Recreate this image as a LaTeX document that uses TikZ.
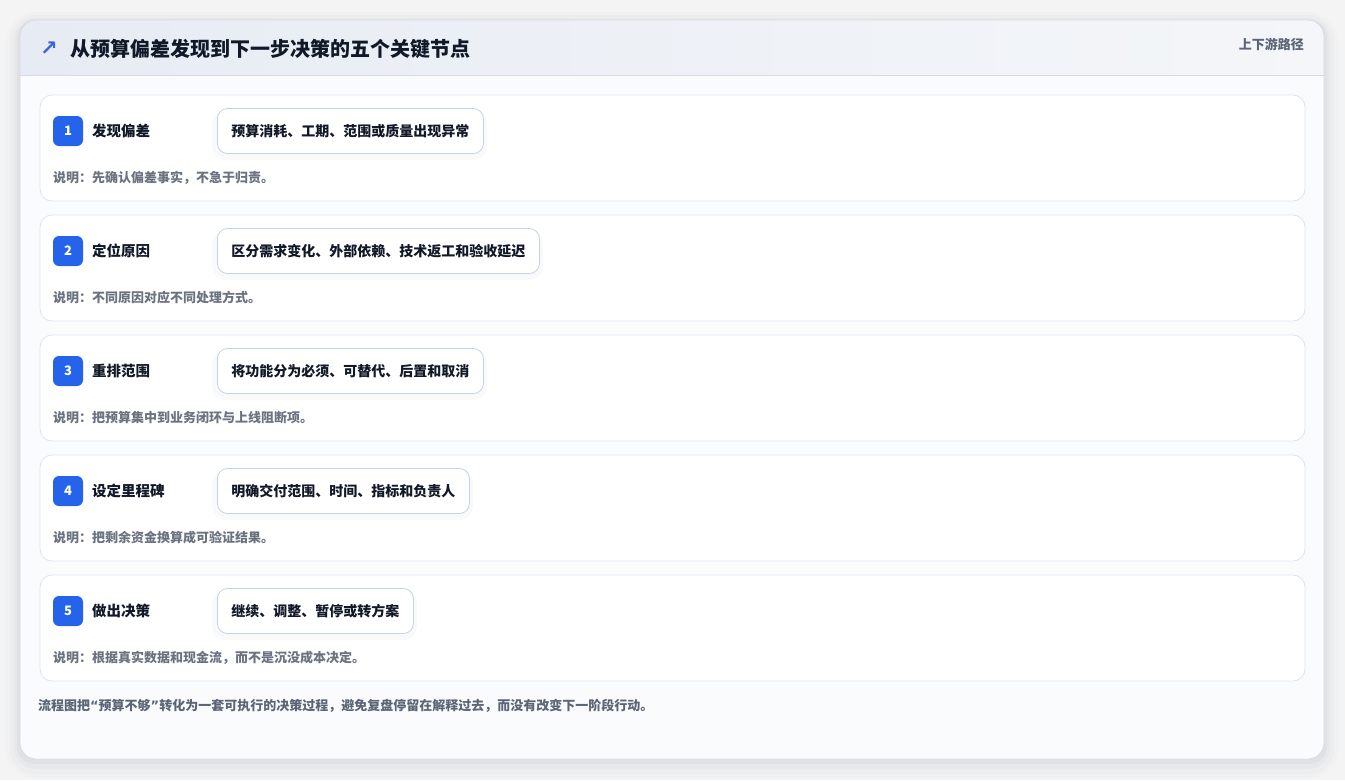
\documentclass[tikz,border=0pt]{standalone}
\usepackage{fontspec}
\setmainfont{Noto Sans CJK SC}
\newfontfamily\symfont{DejaVu Sans}
\usepackage{tikz}
\usetikzlibrary{positioning}
\usepackage{xcolor}
\definecolor{pagegray}{HTML}{F4F4F5}
\definecolor{cardline}{HTML}{D6DBE3}
\definecolor{cardbody}{HTML}{FAFBFD}
\definecolor{headleft}{HTML}{E7ECF4}
\definecolor{headright}{HTML}{F4F6F9}
\definecolor{rowfill}{HTML}{FFFFFF}
\definecolor{rowline}{HTML}{DCE5F1}
\definecolor{badgeblue}{HTML}{2563EB}
\definecolor{pillline}{HTML}{C2D3EB}
\definecolor{inkdark}{HTML}{111827}
\definecolor{notegray}{HTML}{6B7280}
\definecolor{footgray}{HTML}{5B6576}
\definecolor{iconblue}{HTML}{3B63E0}
\definecolor{shadowink}{HTML}{1E293B}

\begin{document}
\begin{tikzpicture}[x=1pt,y=-1pt,
        rowbox/.style={draw=rowline,fill=rowfill,rounded corners=12pt,line width=0.8pt},
        badge/.style={fill=badgeblue,rounded corners=6pt,minimum width=30pt,minimum height=30pt,inner sep=0pt,text=white,font=\fontsize{13pt}{15pt}\selectfont\bfseries},
        steptitle/.style={anchor=west,inner sep=0pt,text=inkdark,font=\fontsize{14.5pt}{17pt}\selectfont\bfseries},
        pill/.style={anchor=west,draw=pillline,fill=white,rounded corners=10pt,line width=0.8pt,minimum height=45pt,inner xsep=14pt,text=inkdark,font=\fontsize{14pt}{16pt}\selectfont\bfseries},
        pillshade/.style={fill=shadowink,fill opacity=0.025,rounded corners=14pt},
        notetext/.style={anchor=west,inner sep=0pt,text=notegray,font=\fontsize{13pt}{15pt}\selectfont\bfseries}]
            \useasboundingbox (0,0) rectangle (1345,780);
            \fill [pagegray] (0,0) rectangle (1345,780);

            % soft shadow of the card
            \fill [shadowink,fill opacity=0.012,rounded corners=30pt] (6,12) rectangle (1338,778);
            \fill [shadowink,fill opacity=0.018,rounded corners=26pt] (10,15) rectangle (1334,774);
            \fill [shadowink,fill opacity=0.025,rounded corners=22pt] (14,18) rectangle (1330,769);
            \fill [shadowink,fill opacity=0.035,rounded corners=18pt] (17,20) rectangle (1327,764);

            % card and header
            \fill [cardbody,rounded corners=16pt] (20,20) rectangle (1324,759);
            \begin{scope}
                \clip [rounded corners=16pt] (20,20) rectangle (1324,759);
                \shade [left color=headleft,right color=headright] (20,20) rectangle (1324,75);
            \end{scope}
            \draw [cardline,line width=0.8pt] (20,75) -- (1324,75);
            \draw [cardline,line width=0.8pt,rounded corners=16pt] (20,20) rectangle (1324,759);

            \node [anchor=west,inner sep=0pt,text=iconblue,font=\symfont\bfseries\fontsize{21pt}{24pt}\selectfont] (icon) at (40,49) {↗};
            \node [anchor=west,inner sep=0pt,text=inkdark,font=\fontsize{20pt}{23pt}\selectfont\bfseries] (title) at (70,49) {从预算偏差发现到下一步决策的五个关键节点};
            \node [anchor=east,inner sep=0pt,text=footgray,font=\fontsize{13pt}{15pt}\selectfont\bfseries] (tag) at (1304,44) {上下游路径};

            % step 1
            \draw [rowbox] (40,95) rectangle (1305,201);
            \node [badge] (num1) at (68,131) {1};
            \node [steptitle] (step1) at (92,131) {发现偏差};
            \fill [pillshade] (212,110) rectangle (487,160);
            \node [pill] (pill1) at (217,131) {预算消耗、工期、范围或质量出现异常};
            \node [notetext] (note1) at (53,178) {说明：先确认偏差事实，不急于归责。};

            % step 2
            \draw [rowbox] (40,215) rectangle (1305,321);
            \node [badge] (num2) at (68,251) {2};
            \node [steptitle] (step2) at (92,251) {定位原因};
            \fill [pillshade] (212,230) rectangle (543,280);
            \node [pill] (pill2) at (217,251) {区分需求变化、外部依赖、技术返工和验收延迟};
            \node [notetext] (note2) at (53,298) {说明：不同原因对应不同处理方式。};

            % step 3
            \draw [rowbox] (40,335) rectangle (1305,441);
            \node [badge] (num3) at (68,371) {3};
            \node [steptitle] (step3) at (92,371) {重排范围};
            \fill [pillshade] (212,350) rectangle (487,400);
            \node [pill] (pill3) at (217,371) {将功能分为必须、可替代、后置和取消};
            \node [notetext] (note3) at (53,418) {说明：把预算集中到业务闭环与上线阻断项。};

            % step 4
            \draw [rowbox] (40,455) rectangle (1305,561);
            \node [badge] (num4) at (68,491) {4};
            \node [steptitle] (step4) at (92,491) {设定里程碑};
            \fill [pillshade] (212,470) rectangle (473,520);
            \node [pill] (pill4) at (217,491) {明确交付范围、时间、指标和负责人};
            \node [notetext] (note4) at (53,538) {说明：把剩余资金换算成可验证结果。};

            % step 5
            \draw [rowbox] (40,575) rectangle (1305,681);
            \node [badge] (num5) at (68,611) {5};
            \node [steptitle] (step5) at (92,611) {做出决策};
            \fill [pillshade] (212,590) rectangle (417,640);
            \node [pill] (pill5) at (217,611) {继续、调整、暂停或转方案};
            \node [notetext] (note5) at (53,658) {说明：根据真实数据和现金流，而不是沉没成本决定。};

            \node [anchor=west,inner sep=0pt,text=footgray,font=\fontsize{13pt}{15pt}\selectfont\bfseries] (foot) at (38,706) {流程图把{\symfont “}预算不够{\symfont ”}转化为一套可执行的决策过程，避免复盘停留在解释过去，而没有改变下一阶段行动。};
        \end{tikzpicture}
\end{document}
